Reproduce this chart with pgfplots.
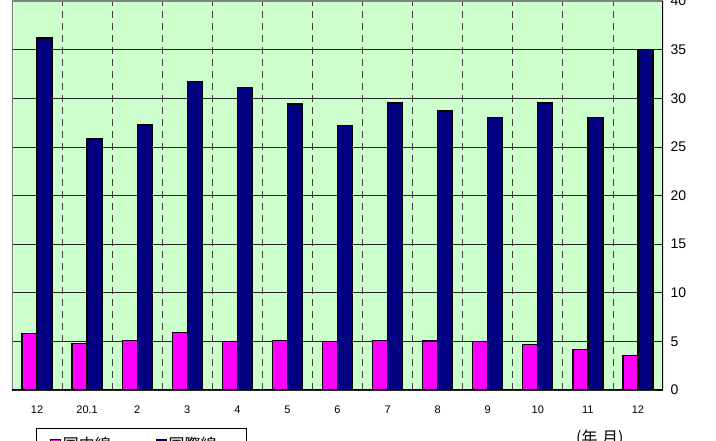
\documentclass[border=0pt]{standalone}
\usepackage{fontspec}
\setmainfont{Liberation Sans}
\newfontfamily\cjk{Noto Sans CJK JP}
\usepackage{pgfplots}
\pgfplotsset{compat=1.18}
\definecolor{bg}{HTML}{CCFFCC}
\definecolor{pinkbar}{HTML}{FF00FF}
\definecolor{navybar}{HTML}{000080}
\begin{document}
\begin{tikzpicture}
\useasboundingbox (-12pt,-51pt) rectangle (704pt,390pt);
\begin{axis}[
  at={(0,0)}, anchor=south west,
  scale only axis, width=651pt, height=389pt,
  xmin=-0.5, xmax=12.5, ymin=0, ymax=40,
  ybar, bar width=15pt,
  axis background/.style={fill=bg},
  axis line style={draw=none},
  xtick={0,...,12},
  xticklabels={12,20.1,2,3,4,5,6,7,8,9,10,11,12},
  minor xtick={0.5,1.5,...,11.5},
  xminorgrids,
  minor x grid style={black!75, line width=0.8pt, dash pattern=on 7pt off 5pt},
  major x tick style={draw=none},
  minor x tick style={draw=none},
  xticklabel style={font=\fontsize{11}{13}\selectfont, yshift=-12pt},
  ytick={0,5,...,40},
  ymajorgrids,
  major y grid style={black!85, line width=0.7pt},
  ytick pos=right, yticklabel pos=right,
  tick align=inside, major tick length=5pt,
  y tick style={black, line width=0.7pt},
  yticklabel style={font=\fontsize{14}{16}\selectfont, xshift=4pt},
  /pgf/number format/assume math mode=true,
  legend columns=2,
  legend style={font=\cjk\fontsize{16}{18}\selectfont, at={(rel axis cs:0,0)}, anchor=north west,
    xshift=24pt, yshift=-38pt, draw=black, line width=0.8pt, inner xsep=14pt, inner ysep=7pt,
    /tikz/every even column/.append style={column sep=43pt}},
  legend image code/.code={\draw[#1, draw=black, line width=0.6pt] (0pt,-4pt) rectangle (10pt,6pt);},
]
\addplot[fill=pinkbar, draw=black, line width=1.3pt, bar shift=-7.5pt] coordinates {
(0,5.8) (1,4.8) (2,5.1) (3,5.9) (4,5.0) (5,5.1) (6,5.0) (7,5.1) (8,5.05) (9,5.0) (10,4.65) (11,4.2) (12,3.55)};
\addplot[fill=navybar, draw=black, line width=1.3pt, bar shift=7.5pt] coordinates {
(0,36.2) (1,25.8) (2,27.25) (3,31.7) (4,31.1) (5,29.4) (6,27.2) (7,29.5) (8,28.7) (9,28.0) (10,29.5) (11,28.05) (12,35.0)};
\legend{国内線,国際線\hspace*{14pt}}
\draw[black!50, line width=1.5pt] (rel axis cs:0,0) -- (rel axis cs:0,1) -- (rel axis cs:1,1);
\draw[black, line width=1.2pt] (rel axis cs:0,0) -- (rel axis cs:1,0) -- (rel axis cs:1,1);
\end{axis}
\node[anchor=north west, inner sep=0pt, font=\cjk\fontsize{16}{18}\selectfont] at (564pt,-40pt) {(年.月)};
\end{tikzpicture}
\end{document}
